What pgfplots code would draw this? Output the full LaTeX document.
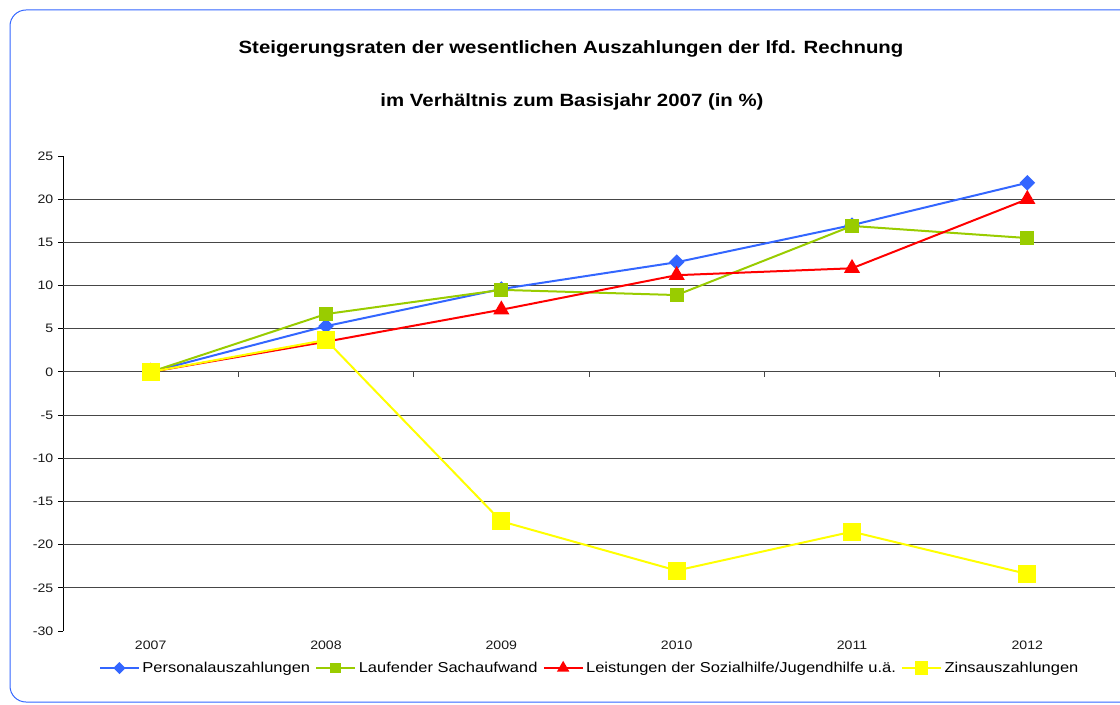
\documentclass[border=0pt]{standalone}
\usepackage{fontspec}
\setmainfont{Liberation Sans}[FakeStretch=1.15]
\usepackage{pgfplots}
\pgfplotsset{compat=1.18}
\definecolor{cblue}{RGB}{51,102,255}
\definecolor{cgreen}{RGB}{153,204,0}
\definecolor{cred}{RGB}{255,0,0}
\definecolor{cyellow}{RGB}{255,255,0}
\definecolor{gridc}{RGB}{70,70,70}
\begin{document}
\begin{tikzpicture}[x=0.75pt,y=0.75pt]
\path[use as bounding box] (0,0) rectangle (1120,704);
\draw[cblue, line width=0.75pt, rounded corners=12pt] (10,2) rectangle (1140,694);
\node[font=\bfseries\fontsize{13.3pt}{15pt}\selectfont] at (571,655) {Steigerungsraten der wesentlichen Auszahlungen der lfd. Rechnung};
\node[font=\bfseries\fontsize{13.3pt}{15pt}\selectfont] at (572,602) {im Verhältnis zum Basisjahr 2007 (in \%)};
\begin{axis}[
  at={(47.25pt,54.75pt)}, anchor=south west,
  scale only axis, width=789pt, height=356.25pt,
  xmin=-0.5, xmax=5.5, ymin=-30, ymax=25,
  axis y line=left, axis x line=bottom,
  x axis line style={draw=none,-}, y axis line style={-, black, line width=0.75pt},
  xtick={0,1,2,3,4,5},
  xticklabels={2007,2008,2009,2010,2011,2012},
  x tick style={draw=none},
  ytick={-30,-25,...,25},
  y tick style={black, line width=0.75pt},
  ytick align=outside, major tick length=3.75pt,
  extra y ticks={-25,-20,...,20},
  extra y tick style={grid=major, tick style={draw=none}, yticklabels={}},
  extra y tick labels={},
  grid style={gridc, line width=0.75pt},
  tick label style={font=\fontsize{9.2pt}{11pt}\selectfont, text=black!90},
  /pgf/number format/assume math mode=true,
  x tick label style={yshift=-2pt},
  legend style={at={(0.501,-0.078)}, anchor=center, draw=none, fill=none,
    font=\fontsize{10.75pt}{12pt}\selectfont, legend columns=4,
    /tikz/every even column/.append style={column sep=2pt}},
  legend image code/.code={\draw[mark repeat=2,mark phase=2,#1,every mark/.append style={scale=0.72}] plot coordinates {(0pt,0pt) (14.5pt,0pt) (29pt,0pt)};},
  clip=false,
]
\draw[gridc, line width=0.75pt] (axis cs:-0.5,0) -- (axis cs:5.5,0);
\draw[gridc, line width=0.75pt] (axis cs:0.5,0) -- ([yshift=-3.5pt]axis cs:0.5,0);
\draw[gridc, line width=0.75pt] (axis cs:1.5,0) -- ([yshift=-3.5pt]axis cs:1.5,0);
\draw[gridc, line width=0.75pt] (axis cs:2.5,0) -- ([yshift=-3.5pt]axis cs:2.5,0);
\draw[gridc, line width=0.75pt] (axis cs:3.5,0) -- ([yshift=-3.5pt]axis cs:3.5,0);
\draw[gridc, line width=0.75pt] (axis cs:4.5,0) -- ([yshift=-3.5pt]axis cs:4.5,0);
\draw[gridc, line width=0.75pt] (axis cs:5.5,0) -- ([yshift=-3.5pt]axis cs:5.5,0);
\addplot[cblue, line width=1.5pt, mark=square*, mark size=3.4pt, mark options={rotate=45, fill=cblue, draw=cblue}]
  coordinates {(0,0) (1,5.3) (2,9.6) (3,12.7) (4,17.0) (5,21.9)};
\addlegendentry{Personalauszahlungen}
\addplot[cgreen, line width=1.5pt, mark=square*, mark size=4.6pt, mark options={fill=cgreen, draw=cgreen}]
  coordinates {(0,0) (1,6.7) (2,9.5) (3,8.9) (4,16.9) (5,15.5)};
\addlegendentry{Laufender Sachaufwand}
\addplot[cred, line width=1.5pt, mark=triangle*, mark size=5.5pt, mark options={fill=cred, draw=cred}]
  coordinates {(0,0) (1,3.5) (2,7.2) (3,11.2) (4,12.0) (5,20.0)};
\addlegendentry{Leistungen der Sozialhilfe/Jugendhilfe u.ä.}
\addplot[cyellow, line width=1.5pt, mark=square*, mark size=6pt, mark options={fill=cyellow, draw=cyellow}]
  coordinates {(0,0) (1,3.7) (2,-17.3) (3,-23.0) (4,-18.5) (5,-23.4)};
\addlegendentry{Zinsauszahlungen}
\end{axis}
\end{tikzpicture}
\end{document}
